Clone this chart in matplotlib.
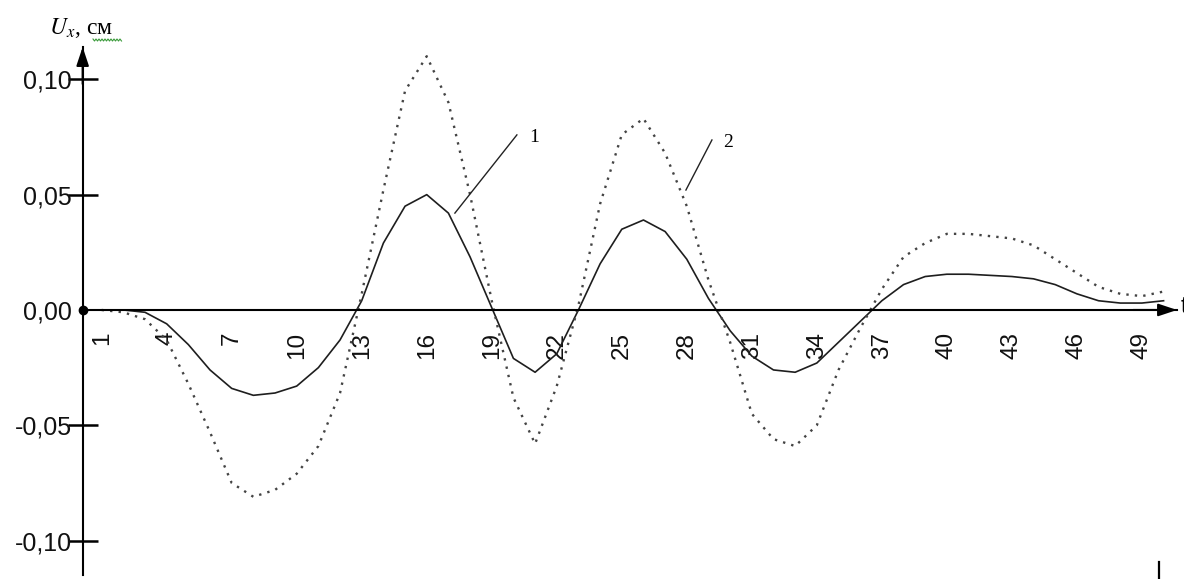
# --- displacement U_x along the points, two loading cases ---
import matplotlib.pyplot as plt
import numpy as np
from matplotlib.lines import Line2D

plt.rcParams['font.family'] = ['Liberation Sans', 'DejaVu Sans']
plt.rcParams['mathtext.fontset'] = 'stix'

# point numbers
points = np.arange(1, 51)

# curve 1 (solid)
u1 = [0.000, 0.000, -0.001, -0.006, -0.015, -0.026, -0.034, -0.037, -0.036, -0.033,
      -0.025, -0.013, 0.004, 0.029, 0.045, 0.050, 0.042, 0.023, 0.001, -0.021,
      -0.027, -0.019, 0.000, 0.020, 0.035, 0.039, 0.034, 0.022, 0.005, -0.009,
      -0.020, -0.026, -0.027, -0.023, -0.014, -0.005, 0.004, 0.011, 0.0145, 0.0155,
      0.0155, 0.015, 0.0145, 0.0135, 0.011, 0.007, 0.004, 0.003, 0.003, 0.004]

# curve 2 (dotted)
u2 = [0.000, -0.001, -0.004, -0.013, -0.032, -0.053, -0.075, -0.081, -0.078, -0.071,
      -0.059, -0.036, 0.007, 0.052, 0.095, 0.110, 0.090, 0.050, 0.004, -0.038,
      -0.058, -0.033, 0.002, 0.046, 0.076, 0.083, 0.068, 0.045, 0.013, -0.014,
      -0.045, -0.056, -0.059, -0.050, -0.026, -0.008, 0.009, 0.023, 0.029, 0.033,
      0.033, 0.032, 0.031, 0.028, 0.022, 0.016, 0.010, 0.007, 0.006, 0.008]

x_ticks = np.arange(1, 50, 3)
y_ticks = [-0.10, -0.05, 0.0, 0.05, 0.10]
y_labels = ['-0,10', '-0,05', '0,00', '0,05', '0,10']

# curve labels and their leader lines
lead1 = ([17.30, 20.16], [0.042, 0.0759])
lead2 = ([27.96, 29.16], [0.052, 0.0737])
x0, x1 = 0.123, 50.62

fig = plt.figure(figsize=(11.84, 5.79), dpi=100)
ax = fig.add_axes([0.0698, 0.0069, 0.9243, 0.9119])
ax.set_xlim(x0, x1)
ax.set_ylim(-0.1149, 0.114)

ax.plot(points, u1, color='#1e1e1e', lw=1.2)
ax.plot(points, u2, color='#444444', lw=1.7, linestyle=(0, (1, 2.6)))

# axes through the origin
for s in ['top', 'right']:
    ax.spines[s].set_visible(False)
ax.spines['bottom'].set_position(('data', 0))
ax.spines['bottom'].set_linewidth(1.5)
ax.spines['left'].set_linewidth(1.5)

arrow = dict(arrowstyle='-|>,head_length=0.75,head_width=0.25', color='k',
             lw=1.5, mutation_scale=15, shrinkA=0, shrinkB=0)
ax.annotate('', xy=(1.0, 0), xytext=(0.96, 0), xycoords=ax.get_yaxis_transform(),
            arrowprops=arrow, annotation_clip=False)
ax.annotate('', xy=(0, 1.0), xytext=(0, 0.93), xycoords='axes fraction',
            arrowprops=arrow, annotation_clip=False)
ax.plot(x0, 0, 'o', color='k', ms=6, clip_on=False, zorder=5)

ax.set_yticks(y_ticks, y_labels)
ax.tick_params(axis='y', direction='inout', length=21.6, width=1.8, pad=-3.1,
               labelsize=18, labelcolor='#111111')
ax.yaxis.get_major_ticks()[2].tick1line.set_visible(False)

ax.set_xticks(x_ticks, [str(v) for v in x_ticks], rotation=90)
ax.tick_params(axis='x', length=0, pad=15.8, labelsize=17.5, labelcolor='#111111')

ax.plot(*lead1, color='#222222', lw=1.0)
ax.plot(*lead2, color='#222222', lw=1.0)
ax.text(20.98, 0.0746, '1', family='Liberation Serif', fontsize=14, ha='center', va='center')
ax.text(29.9, 0.0728, '2', family='Liberation Serif', fontsize=14, ha='center', va='center')

# axis captions
fig.text(49 / 1184, 1 - 34 / 579, r'$U_x$, см', family='Liberation Serif', fontsize=17,
         ha='left', va='baseline')
zx = np.arange(93, 123, 1.5)
zy = 579 - 40 + np.where(np.arange(len(zx)) % 2 == 0, 1.0, -1.0)
fig.add_artist(Line2D(zx / 1184, zy / 579, transform=fig.transFigure, color='#3a9a3a', lw=0.8))
fig.text(1181 / 1184, 1 - 307 / 579, 't', fontsize=17, ha='left', va='center')
fig.add_artist(Line2D([1159 / 1184] * 2, [0, 17 / 579], transform=fig.transFigure,
                      color='k', lw=1.6))

fig.savefig('out.png', dpi=100)
